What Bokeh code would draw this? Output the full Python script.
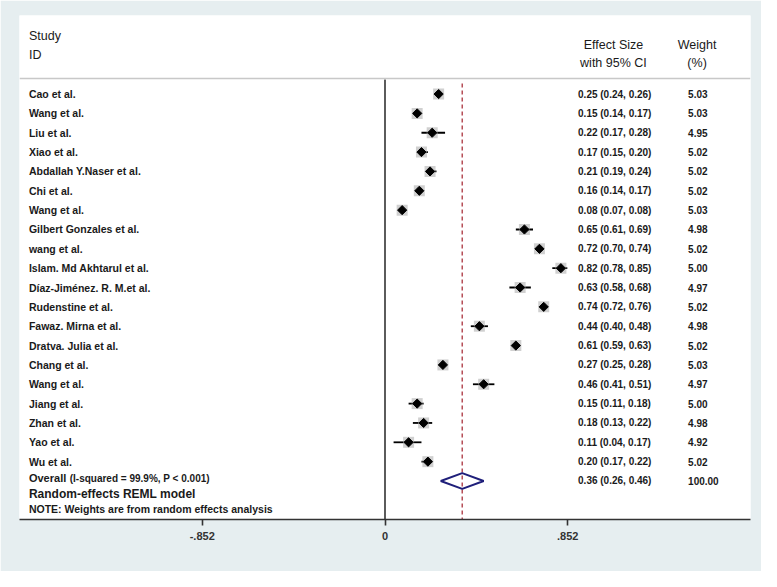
import math
from bokeh.plotting import figure
from bokeh.models import Range1d, FixedTicker, Span, ColumnDataSource
from bokeh.core.properties import value
from bokeh.embed import file_html
from bokeh.resources import INLINE

# ---------------- data ----------------
studies = ["Cao et al.", "Wang et al.", "Liu et al.", "Xiao et al.", "Abdallah Y.Naser et al.",
           "Chi et al.", "Wang et al.", "Gilbert Gonzales et al.", "wang et al.",
           "Islam. Md Akhtarul et al.", "Díaz-Jiménez. R. M.et al.", "Rudenstine et al.",
           "Fawaz. Mirna et al.", "Dratva. Julia et al.", "Chang et al.", "Wang et al.",
           "Jiang et al.", "Zhan et al.", "Yao et al.", "Wu et al."]
es = [0.25, 0.15, 0.22, 0.17, 0.21, 0.16, 0.08, 0.65, 0.72, 0.82, 0.63, 0.74, 0.44, 0.61,
      0.27, 0.46, 0.15, 0.18, 0.11, 0.20]
lo = [0.24, 0.14, 0.17, 0.15, 0.19, 0.14, 0.07, 0.61, 0.70, 0.78, 0.58, 0.72, 0.40, 0.59,
      0.25, 0.41, 0.11, 0.13, 0.04, 0.17]
hi = [0.26, 0.17, 0.28, 0.20, 0.24, 0.17, 0.08, 0.69, 0.74, 0.85, 0.68, 0.76, 0.48, 0.63,
      0.28, 0.51, 0.18, 0.22, 0.17, 0.22]
weights = [5.03, 5.03, 4.95, 5.02, 5.02, 5.02, 5.03, 4.98, 5.02, 5.00, 4.97, 5.02, 4.98, 5.02,
           5.03, 4.97, 5.00, 4.98, 4.92, 5.02]
overall_es, overall_lo, overall_hi, overall_w = 0.36, 0.26, 0.46, 100.00
i_squared, p_text = "99.9%", "P < 0.001"
tick_vals = [-0.852, 0, 0.852]
tick_labels = ["-.852", "0", ".852"]

# ---------------- layout ----------------
BG = "#e6eef0"
FONT = "Liberation Sans"
XMAX = 2 * 0.852
n = len(studies)
rows = [-k for k in range(n)]
y_over = -n
Y_TOP, Y_BOT = 4.06, -21.99

X_STUDY = -1.66
X_ES = 0.90
X_W = 1.413

p = figure(width=761, height=571, output_backend="svg", toolbar_location=None,
           x_range=Range1d(-XMAX, XMAX), y_range=Range1d(Y_BOT, Y_TOP),
           min_border_left=19, min_border_right=11, min_border_top=15, min_border_bottom=52)
p.border_fill_color = BG
p.background_fill_color = "white"
p.outline_line_color = None
p.grid.visible = False
p.yaxis.visible = False

xa = p.xaxis[0]
xa.ticker = FixedTicker(ticks=tick_vals)
xa.major_label_overrides = {v: l for v, l in zip(tick_vals, tick_labels)}
xa.axis_line_color = "#333333"
xa.axis_line_width = 1.6
xa.major_tick_line_color = "#333333"
xa.major_tick_line_width = 1.6
xa.major_tick_in = 0
xa.major_tick_out = 6
xa.minor_tick_line_color = None
xa.major_label_text_font = FONT
xa.major_label_text_font_size = "11px"
xa.major_label_text_font_style = "bold"
xa.major_label_text_color = "#333333"
xa.major_label_standoff = 6

# header separator
p.add_layout(Span(location=0.8, dimension="width", line_color="#c8c8c8", line_width=1.5))

# zero line and overall dashed line
p.segment(x0=[0], y0=[0.75], x1=[0], y1=[Y_BOT], line_color="#333333", line_width=1.6)
p.segment(x0=[overall_es], y0=[0.55], x1=[overall_es], y1=[Y_BOT], line_color="#b0404a",
          line_width=1.4, line_dash="4 3")

src = ColumnDataSource(dict(
    y=rows, es=es, lo=lo, hi=hi, study=studies,
    es_txt=[f"{e:.2f} ({a:.2f}, {b:.2f})" for e, a, b in zip(es, lo, hi)],
    w_txt=[f"{w:.2f}" for w in weights],
))

p.segment(x0="lo", y0="y", x1="hi", y1="y", source=src, line_color="black", line_width=1.8)
p.scatter(x="es", y="y", source=src, marker="square", size=11, fill_color="#b0b0b0",
          fill_alpha=0.6, line_color=None)
p.scatter(x="es", y="y", source=src, marker="square", angle=math.pi / 4, size=6.5,
          fill_color="black", line_color="black")

# overall diamond
h = 0.41
p.patch(x=[overall_lo, overall_es, overall_hi, overall_es, overall_lo],
        y=[y_over, y_over + h, y_over, y_over - h, y_over],
        fill_color="white", fill_alpha=0.0, line_color="#1f1f7a", line_width=2)

common = dict(text_font=value(FONT), text_baseline="middle", text_color="#1a1a1a")
p.text(x=X_STUDY, y="y", text="study", source=src, text_font_size="10.5px",
       text_font_style="bold", **common)
p.text(x=X_ES, y="y", text="es_txt", source=src, text_font_size="10px",
       text_font_style="bold", **common)
p.text(x=X_W, y="y", text="w_txt", source=src, text_font_size="10px",
       text_font_style="bold", **common)

# overall row texts
p.text(x=[X_STUDY], y=[y_over + 0.15], text=["Overall"], text_font_size="11px",
       text_font_style="bold", **common)
p.text(x=[X_STUDY + 0.19], y=[y_over + 0.15],
       text=[f"(I-squared = {i_squared}, {p_text})"], text_font_size="10px",
       text_font_style="bold", **common)
p.text(x=[X_ES], y=[y_over],
       text=[f"{overall_es:.2f} ({overall_lo:.2f}, {overall_hi:.2f})"],
       text_font_size="10px", text_font_style="bold", **common)
p.text(x=[X_W], y=[y_over], text=[f"{overall_w:.2f}"], text_font_size="10px",
       text_font_style="bold", **common)
p.text(x=[X_STUDY], y=[y_over - 0.65], text=["Random-effects REML model"],
       text_font_size="12px", text_font_style="bold", **common)
p.text(x=[X_STUDY], y=[y_over - 1.47], text=["NOTE: Weights are from random effects analysis"],
       text_font_size="10.5px", text_font_style="bold", **common)

# header
hdr = dict(text_font=value(FONT), text_baseline="middle", text_color="#1a1a1a",
           text_font_size="12.5px")
p.text(x=[X_STUDY], y=[3.02], text=["Study"], **hdr)
p.text(x=[X_STUDY], y=[2.04], text=["ID"], **hdr)
p.text(x=[1.065], y=[2.51], text=["Effect Size"], text_align="center", **hdr)
p.text(x=[1.065], y=[1.58], text=["with 95% CI"], text_align="center", **hdr)
p.text(x=[1.455], y=[2.51], text=["Weight"], text_align="center", **hdr)
p.text(x=[1.455], y=[1.58], text=["(%)"], text_align="center", **hdr)

html = file_html(p, INLINE)
html = html.replace("<body>", f'<body style="background:{BG};">', 1)
open("out.html", "w").write(html)
